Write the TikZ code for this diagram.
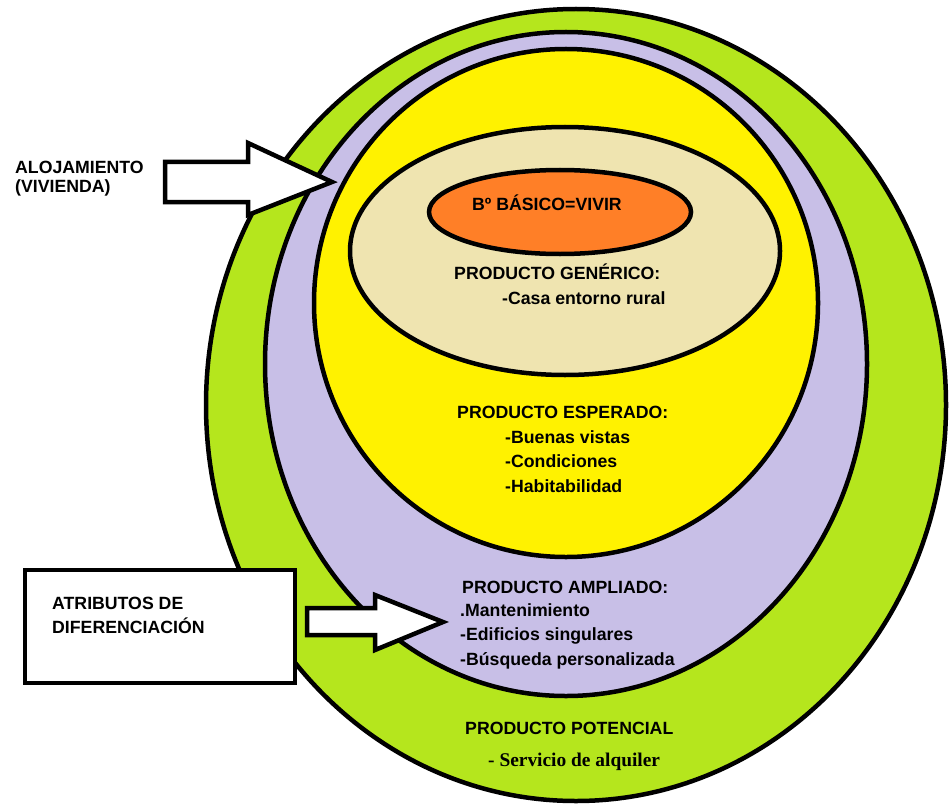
\documentclass[tikz,border=0pt]{standalone}
\usepackage{fontspec}
\setmainfont{Liberation Sans}
\newfontfamily\timesfont{Liberation Serif}
\usetikzlibrary{positioning}
\definecolor{potencial}{HTML}{B5E61D}
\definecolor{ampliado}{HTML}{C8BFE7}
\definecolor{esperado}{HTML}{FFF200}
\definecolor{generico}{HTML}{EFE4B0}
\definecolor{basico}{HTML}{FF7F27}
\tikzstyle{capa} = [draw=black, line width=4.5pt]
\tikzstyle{rotulo} = [anchor=base west, inner sep=0pt, font=\fontsize{17.7}{21}\selectfont\bfseries]
\tikzstyle{flecha} = [draw=black, fill=white, line width=4.5pt, line join=miter]

\begin{document}
\begin{tikzpicture}[x=1pt,y=-1pt]
\useasboundingbox (0,0) rectangle (949,805);

% Capas del producto, de fuera a dentro
\draw[capa, fill=potencial] (576,405) ellipse (370 and 396);
\draw[capa, fill=ampliado] (566,364) ellipse (301 and 332);
\draw[capa, fill=esperado] (566,303) ellipse (252 and 254);
\draw[capa, fill=generico] (565,251) ellipse (215 and 124);
\draw[capa, fill=basico] (560,212) ellipse (131 and 42);

% Textos de cada nivel
\node (basico) [rotulo] at (472,210) {Bº BÁSICO=VIVIR};
\node (generico) [rotulo] at (454,279) {PRODUCTO GENÉRICO:};
\node (casa) [rotulo] at (502,304) {-Casa entorno rural};
\node (esperado) [rotulo] at (457,418) {PRODUCTO ESPERADO:};
\node (vistas) [rotulo] at (505,443) {-Buenas vistas};
\node (condiciones) [rotulo] at (505,467) {-Condiciones};
\node (habitabilidad) [rotulo] at (505,492) {-Habitabilidad};
\node (ampliado) [rotulo] at (462,593) {PRODUCTO AMPLIADO:};
\node (mantenimiento) [rotulo] at (460,616) {.Mantenimiento};
\node (edificios) [rotulo] at (460,640) {-Edificios singulares};
\node (busqueda) [rotulo] at (460,665) {-Búsqueda personalizada};
\node (potencial) [rotulo] at (465,734) {PRODUCTO POTENCIAL};
\node (alquiler) [rotulo, font=\fontsize{19.4}{22}\selectfont\timesfont\bfseries] at (488,766) {- Servicio de alquiler};

% Rotulos exteriores
\node (alojamiento) [rotulo] at (15,173) {ALOJAMIENTO};
\node (vivienda) [rotulo] at (15,193) {(VIVIENDA)};
\draw[line width=4.5pt, fill=white] (25,570) rectangle (295,683);
\node (atributos) [rotulo] at (52,609) {ATRIBUTOS DE};
\node (diferenciacion) [rotulo] at (52,633) {DIFERENCIACIÓN};

% Flechas de bloque
\draw[flecha] (165,162) -- (248,162) -- (248,143) -- (332,182) -- (248,215) -- (248,202) -- (165,202) -- cycle;
\draw[flecha] (307,608) -- (375,608) -- (375,595) -- (443,622) -- (375,650) -- (375,635) -- (307,635) -- cycle;

\end{tikzpicture}
\end{document}
